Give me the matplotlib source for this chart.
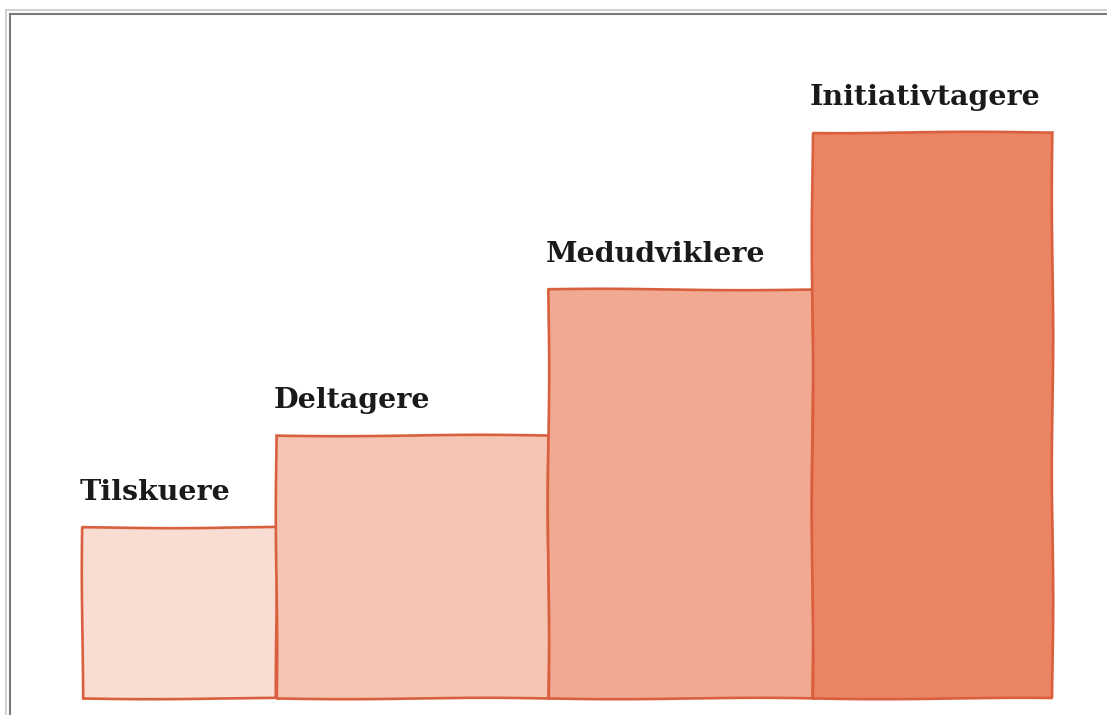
import matplotlib.pyplot as plt
import numpy as np

# ---- data ----
labels = ["Tilskuere", "Deltagere", "Medudviklere", "Initiativtagere"]
heights = [171, 263, 409, 566]
widths = [194, 272, 264, 240]
colors = ["#F9DDD3", "#F5C5B3", "#F1AA91", "#EB8463"]
edge = "#D9603F"

W, H = 1107, 715
fig = plt.figure(figsize=(W / 100, H / 100), dpi=100)
ax = fig.add_axes([0, 0, 1, 1])
ax.set_xlim(0, W)
ax.set_ylim(0, H)
ax.axis("off")

base = 17   # bottom of the bars (from image bottom)
x0 = 82
lefts = x0 + np.concatenate([[0], np.cumsum(widths)[:-1]])

bars = ax.bar(lefts, heights, width=widths, bottom=base, align="edge",
              color=colors, edgecolor=edge, linewidth=1.9)
for b in bars:
    b.set_sketch_params(0.7, 300, 2)

for lx, h, lab in zip(lefts, heights, labels):
    ax.text(lx - 2, base + h + 21, lab, ha="left", va="bottom",
            fontsize=20.5, fontweight="bold", family="DejaVu Serif",
            color="#1a1a1a")

# frame lines (top & left only, like the screenshot)
fig.add_artist(plt.Line2D([6 / W, 1], [1 - 10 / H, 1 - 10 / H], color="#c8c8c8", lw=1.2))
fig.add_artist(plt.Line2D([10 / W, 1], [1 - 13.5 / H, 1 - 13.5 / H], color="#7a7a7a", lw=1.5))
fig.add_artist(plt.Line2D([6 / W, 6 / W], [0, 1 - 10 / H], color="#c8c8c8", lw=1.2))
fig.add_artist(plt.Line2D([10 / W, 10 / W], [0, 1 - 13.5 / H], color="#7a7a7a", lw=1.5))

fig.savefig("out.png", dpi=100, facecolor="white")
